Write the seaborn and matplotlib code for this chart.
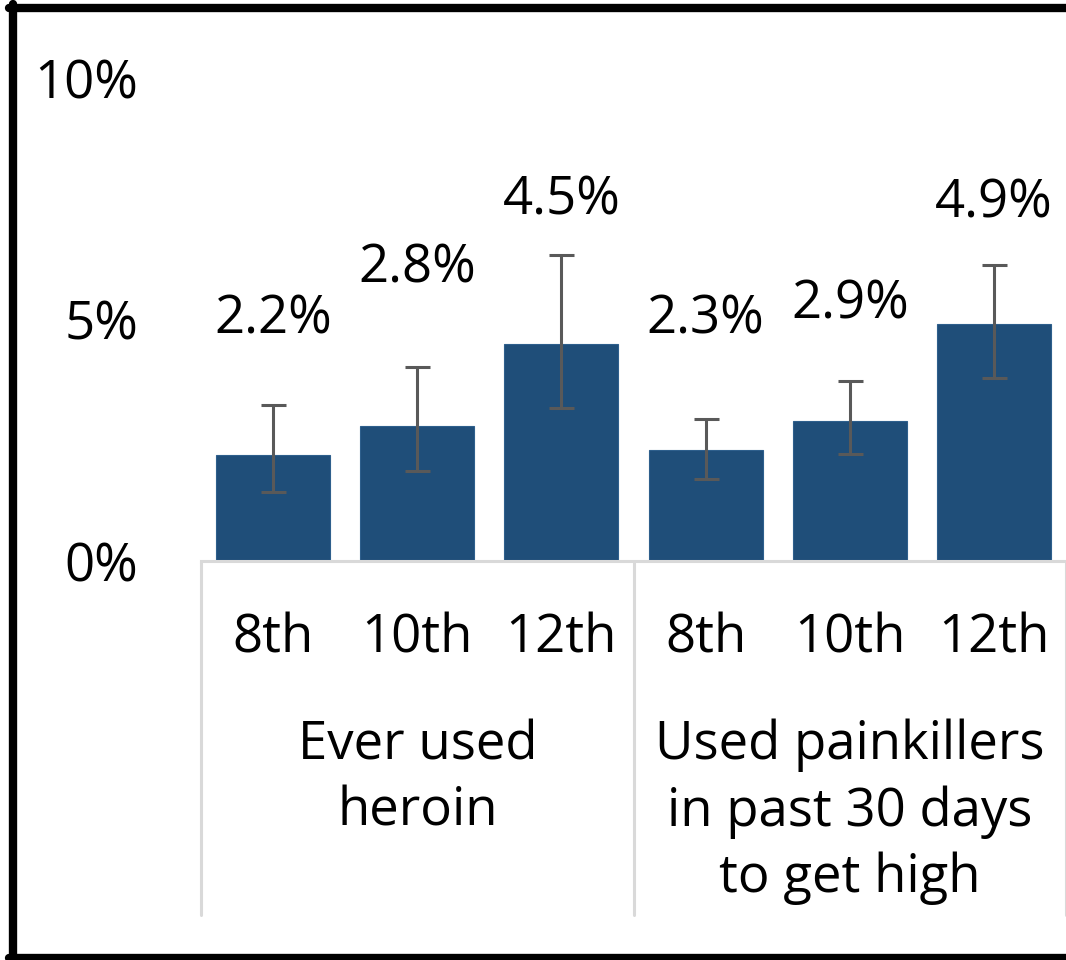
import matplotlib
matplotlib.use("Agg")
import matplotlib.pyplot as plt
import matplotlib.transforms as mtransforms
from matplotlib.lines import Line2D
import pandas as pd
import seaborn as sns

# data
grades = ["8th", "10th", "12th", "8th", "10th", "12th"]
groups = ["Ever used\nheroin", "Used painkillers\nin past 30 days\nto get high"]
values = [2.2, 2.8, 4.5, 2.3, 2.9, 4.9]
err_low = [1.43, 1.86, 3.17, 1.70, 2.22, 3.79]
err_high = [3.23, 4.02, 6.34, 2.94, 3.73, 6.13]

# where the value labels sit (manual placement like the original)
label_y = [5.0, 6.05, 7.45, 5.0, 5.3, 7.4]

sns.set_style("white")
plt.rcParams["font.family"] = ["Open Sans", "DejaVu Sans"]
plt.rcParams["text.color"] = "black"
plt.rcParams["xtick.color"] = "black"
plt.rcParams["ytick.color"] = "black"

fs = 38

df = pd.DataFrame({"key": [f"{i}" for i in range(len(values))], "value": values})

fig = plt.figure(figsize=(10.66, 9.6), dpi=100)
ax = fig.add_axes([201 / 1066, 1 - 561 / 960, 865 / 1066, (561 - 78) / 960])

bar_color = "#1F4E79"
sns.barplot(data=df, x="key", y="value", color=bar_color, width=0.79,
            saturation=1, edgecolor="#2E5F8C", linewidth=0.8, ax=ax)

xs = list(range(len(values)))
yerr = [[v - lo for v, lo in zip(values, err_low)],
        [hi - v for v, hi in zip(values, err_high)]]
ax.errorbar(xs, values, yerr=yerr, fmt="none", ecolor="#595959",
            elinewidth=2.2, capsize=9, capthick=2.2)

for x, ly, v in zip(xs, label_y, values):
    ax.text(x, ly, f"{v:.1f}%", ha="center", va="center", fontsize=fs)

ax.set_ylim(0, 10)
ax.set_xlim(-0.5, 5.5)
ax.set_yticks([0, 5, 10])
ax.set_yticklabels(["0%", "5%", "10%"], fontsize=fs)
ax.tick_params(axis="y", length=0, pad=45)
ax.set_xticks(xs)
ax.set_xticklabels(grades, fontsize=fs)
ax.tick_params(axis="x", length=0, pad=37)
ax.set_xlabel("")
ax.set_ylabel("")

for s in ["top", "right", "left"]:
    ax.spines[s].set_visible(False)
ax.spines["bottom"].set_color("#D9D9D9")
ax.spines["bottom"].set_linewidth(2.2)

# group separators and group labels below the axis
trans = mtransforms.blended_transform_factory(ax.transData, ax.transAxes)
h = 561 - 78
sep_bottom = -(915 - 561) / h
for sx in [-0.5, 2.5, 5.5]:
    ax.add_line(Line2D([sx, sx], [0, sep_bottom], transform=trans,
                       color="#D9D9D9", linewidth=2.2, clip_on=False))

ax.text(1, -(719 - 561) / h, groups[0], transform=trans, ha="center",
        va="top", fontsize=fs, linespacing=1.31)
ax.text(4, -(719 - 561) / h, groups[1], transform=trans, ha="center",
        va="top", fontsize=fs, linespacing=1.31)

# black frame on left, top and bottom
fw = 6
fig.add_artist(Line2D([13 / 1066, 13 / 1066], [0, 1 - 4 / 960], color="black", linewidth=fw))
fig.add_artist(Line2D([9 / 1066, 1], [1 - 8 / 960, 1 - 8 / 960], color="black", linewidth=fw))
fig.add_artist(Line2D([9 / 1066, 1], [2 / 960, 2 / 960], color="black", linewidth=fw))

fig.savefig("out.png", dpi=100)
